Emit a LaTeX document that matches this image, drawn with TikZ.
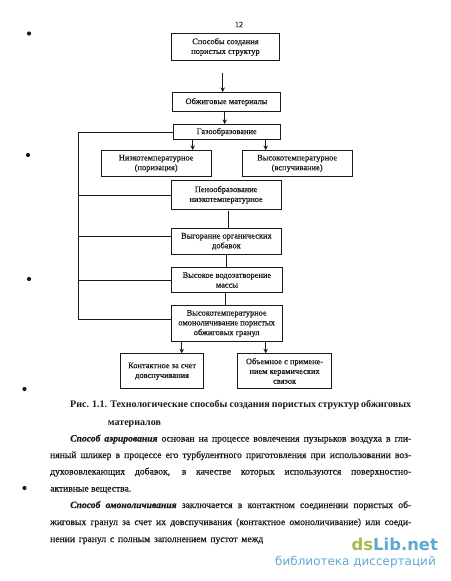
\documentclass[tikz,border=0pt]{standalone}
\usepackage{fontspec}
\setmainfont{Liberation Serif}
\newfontfamily\medserif[FakeBold=0.5,ItalicFont={Liberation Serif Bold Italic}]{Liberation Serif}
\newfontfamily\wmfont{DejaVu Sans}
\usetikzlibrary{arrows.meta,calc}
\definecolor{ink}{HTML}{1A1A1A}
\definecolor{wmgreen}{HTML}{A4BC4C}
\definecolor{wmblue}{HTML}{5FA8D3}
\tikzset{
  x=1pt,y=-1pt,
  box/.style={draw=ink,line width=0.9pt,anchor=north west,inner sep=0pt,align=center,text=ink,font=\medserif\fontsize{8.4}{9.8}\selectfont},
  link/.style={draw=ink,line width=0.8pt},
  arr/.style={link,-{Stealth[length=4.5pt,width=4.4pt]}},
  bodyline/.style={anchor=base west,inner sep=0pt,text=ink,font=\medserif\fontsize{9.6}{10}\selectfont},
  capline/.style={anchor=base west,inner sep=0pt,text=ink,font=\bfseries\fontsize{10}{10}\selectfont},
  speck/.style={circle,fill=ink,inner sep=0pt,minimum size=4.2pt},
}
\begin{document}
\begin{tikzpicture}
\useasboundingbox (0,0) rectangle (450,581);
\fill[white] (0,0) rectangle (450,581);
\node[speck] (d1) at (29,33.5) {};
\node[speck] (d2) at (28,155) {};
\node[speck] (d3) at (29,279) {};
\node[speck] (d4) at (24.5,389) {};
\node[speck] (d5) at (24.5,488) {};
\node[text=ink,inner sep=0pt,font=\medserif\fontsize{8}{9}\selectfont] (pg) at (239,24.5) {12};
\node[box,minimum width=108pt,minimum height=27pt] (b1) at (171,33) {Способы создания\\пористых структур};
\node[box,minimum width=108pt,minimum height=19pt] (b2) at (172,92) {Обжиговые материалы};
\node[box,minimum width=107.5pt,minimum height=15pt] (b3) at (172.5,124) {Газообразование};
\node[box,minimum width=110pt,minimum height=26pt] (b4) at (100.7,150) {Низкотемпературное\\(поризация)};
\node[box,minimum width=110pt,minimum height=26pt] (b5) at (241.7,150) {Высокотемпературное\\(вспучивание)};
\node[box,minimum width=110pt,minimum height=29.5pt] (b6) at (170.7,179.7) {Пенообразование\\низкотемпературное};
\node[box,minimum width=110.5pt,minimum height=26pt] (b7) at (170.7,228) {Выгорание органических\\добавок};
\node[box,minimum width=110.5pt,minimum height=24.5pt] (b8) at (171.2,267.3) {Высокое водозатворение\\массы};
\node[box,minimum width=111pt,minimum height=35.5pt] (b9) at (170.7,305.3) {Высокотемпературное\\омоноличивание пористых\\обжиговых гранул};
\node[box,minimum width=83.3pt,minimum height=34.7pt] (b10) at (120,353.3) {\raisebox{4pt}{\begin{tabular}{@{}c@{}}Контактное за счет\\довспучивания\end{tabular}}};
\node[box,minimum width=94.3pt,minimum height=34.5pt] (b11) at (237,353.3) {Объемное с примене-\\нием керамических\\связок};
\coordinate (top) at (222.7,73);
\coordinate (a2) at (224.7,0);
\coordinate (a4) at (192.7,0);
\coordinate (a5) at (265.7,0);
\coordinate (s6) at (228.3,211);
\coordinate (c7) at (226.7,0);
\coordinate (c8) at (225.3,0);
\coordinate (a10) at (181.7,0);
\coordinate (bus) at (78.5,0);
\draw[arr] (top) -- (top |- b2.north);
\draw[arr] (a2 |- b2.south) -- (a2 |- b3.north);
\draw[arr] (a4 |- b3.south) -- (a4 |- b4.north);
\draw[arr] (a5 |- b3.south) -- (a5 |- b5.north);
\draw[link] (s6) -- (s6 |- b7.north);
\draw[link] (c7 |- b7.south) -- (c7 |- b8.north);
\draw[link] (c8 |- b8.south) -- (c8 |- b9.north);
\draw[arr] (a10 |- b9.south) -- (a10 |- b10.north);
\draw[arr] (a5 |- b9.south) -- (a5 |- b11.north);
\coordinate (e3) at (b3.west -| bus);
\coordinate (e9) at ($(b9.north west)+(0,13.7)$);
\draw[link] (b3.west) -- (e3) -- (e3 |- e9) -- (e9);
\draw[link] (b6.west) -- (b6.west -| bus);
\draw[link] (b7.north west) ++(0,8.7) -- +(-92.2,0);
\draw[link] (b8.west) -- (b8.west -| bus);
\node[capline] (c1) at (70,407.5) {\makebox[341pt][s]{Рис. 1.1. Технологические способы создания пористых структур обжиговых}};
\node[capline] (c2) at (107.7,425) {материалов};
\node[bodyline] (p1) at (70,441.5) {\makebox[341pt][s]{\textit{Способ аэрирования} основан на процессе вовлечения пузырьков воздуха в гли-}};
\node[bodyline] (p2) at (50,458) {\makebox[361pt][s]{няный шликер в процессе его турбулентного приготовления при использовании воз-}};
\node[bodyline] (p3) at (50,474.5) {\makebox[361pt][s]{духововлекающих добавок, в качестве которых используются поверхностно-}};
\node[bodyline] (p4) at (50,491.5) {активные вещества.};
\node[bodyline] (p5) at (70,508) {\makebox[341pt][s]{\textit{Способ омоноличивания} заключается в контактном соединении пористых об-}};
\node[bodyline] (p6) at (50,525) {\makebox[361pt][s]{жиговых гранул за счет их довспучивания (контактное омоноличивание) или соеди-}};
\node[bodyline] (p7) at (50,542) {\makebox[213pt][s]{нении гранул с полным заполнением пустот межд}};
\node[anchor=base west,inner sep=0pt,font=\wmfont\fontsize{16.4}{18}\selectfont\bfseries] (w1) at (351.5,550) {\textcolor{wmgreen}{ds}\textcolor{wmblue}{Lib.net}};
\node[anchor=base west,inner sep=0pt,text=wmblue,font=\wmfont\fontsize{12}{13}\selectfont] (w2) at (275,565) {библиотека диссертаций};
\end{tikzpicture}
\end{document}
